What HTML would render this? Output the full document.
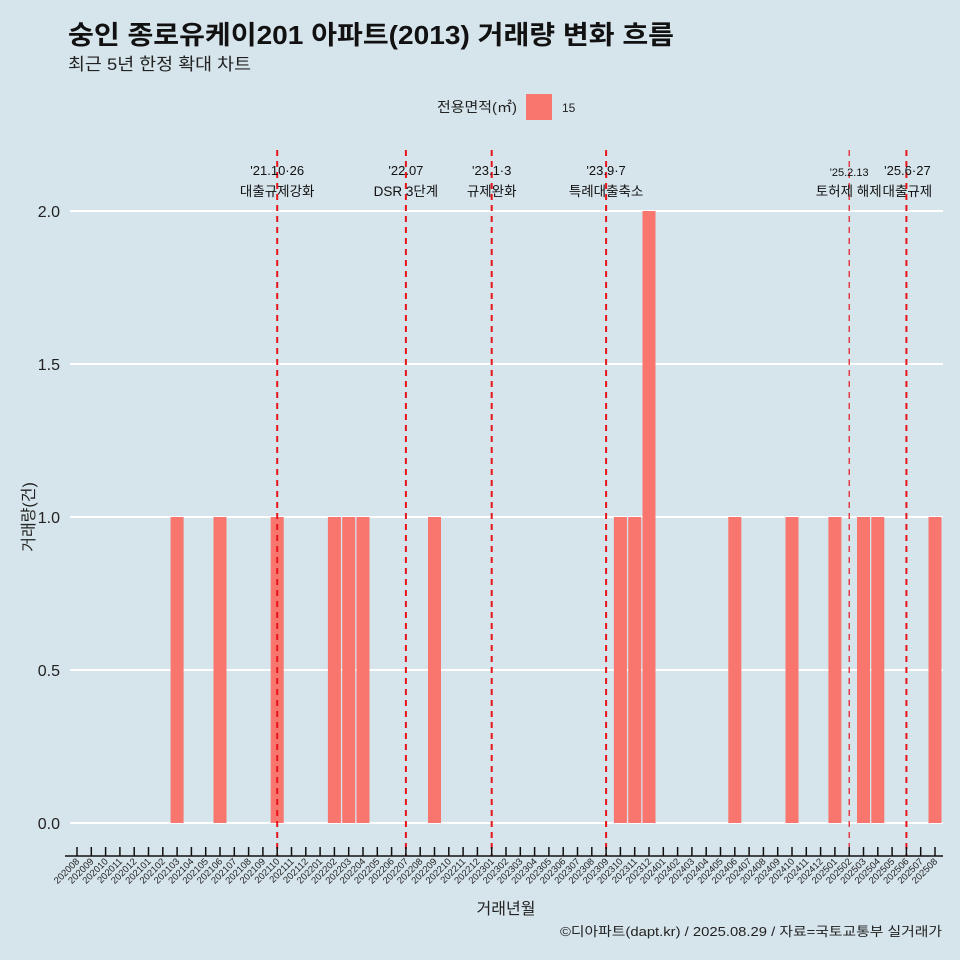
<!DOCTYPE html>
<html><head><meta charset="utf-8"><style>
body{margin:0;background:#d6e4eb;}
svg{display:block;font-family:"Liberation Sans","Noto Sans CJK KR",sans-serif;}
</style></head><body>
<svg id="c" width="960" height="960" viewBox="0 0 960 960">
<rect width="960" height="960" fill="#d6e4eb"/>
<text x="68" y="44" font-size="26" font-weight="bold" fill="#111" textLength="606" lengthAdjust="spacingAndGlyphs">숭인 종로유케이201 아파트(2013) 거래량 변화 흐름</text>
<text x="68" y="70" font-size="17" fill="#222" textLength="183" lengthAdjust="spacingAndGlyphs">최근 5년 한정 확대 차트</text>
<g>
<text x="517" y="112" font-size="14" text-anchor="end" fill="#222" textLength="80" lengthAdjust="spacingAndGlyphs">전용면적(㎡)</text>
<rect x="526" y="94" width="26" height="26" fill="#f8766d"/>
<text x="562" y="112" font-size="12" fill="#222">15</text>
</g>
<g id="grid"></g><g id="bars"></g><g id="events"></g><g id="xaxis"></g><g id="yaxis"></g>
<text x="506" y="914" font-size="16" text-anchor="middle" fill="#222">거래년월</text>
<text transform="translate(34,517) rotate(-90)" font-size="16" text-anchor="middle" fill="#222">거래량(건)</text>
<text x="942" y="936" font-size="13" text-anchor="end" fill="#222" textLength="382" lengthAdjust="spacingAndGlyphs">©디아파트(dapt.kr) / 2025.08.29 / 자료=국토교통부 실거래가</text>
</svg>
<script>
const categories=[];for(let y=2020,m=8;y<2025||(y===2025&&m<=8);){categories.push(''+y+(m<10?'0':'')+m);m++;if(m>12){m=1;y++;}}
const barMonths=['202103','202106','202110','202202','202203','202204','202209','202310','202311','202312','202406','202410','202501','202503','202504','202508'];
const barValues=[1,1,1,1,1,1,1,1,1,2,1,1,1,1,1,1];
const yTicks=[0,0.5,1,1.5,2];
const yTickLabels=['0.0','0.5','1.0','1.5','2.0'];
const eventMonths=['202110','202207','202301','202309','202502','202506'];
const eventLine1=["'21.10·26","'22.07","'23.1·3","'23.9·7","'25.2.13","'25.6·27"];
const eventLine2=['대출규제강화','DSR 3단계','규제완화','특례대출축소','토허제 해제','대출규제'];
const NS='http://www.w3.org/2000/svg';
const x0=77,dx=(935-77)/60;
const xs=c=>x0+categories.indexOf(c)*dx;
const ys=v=>823-v*306;
function mk(p,t,a){const e=document.createElementNS(NS,t);for(const k in a)e.setAttribute(k,a[k]);document.getElementById(p).appendChild(e);return e;}
yTicks.forEach((v,i)=>{
 let l=mk('grid','line',{x1:70,x2:943,y1:ys(v),y2:ys(v),stroke:'#fff','stroke-width':2});
 
 
 let t=mk('yaxis','text',{x:60,y:ys(v)+6,'font-size':16,'text-anchor':'end',fill:'#222'});t.textContent=yTickLabels[i];
 
 
});
barMonths.forEach((m,i)=>{
 let r=mk('bars','rect',{x:xs(m)-6.5,y:ys(barValues[i]),width:13,height:ys(0)-ys(barValues[i]),fill:'#f8766d'});
 
 
});
eventMonths.forEach((m,i)=>{
 const x=xs(m),small=i===4;
 let l=mk('events','line',{x1:x,x2:x,y1:150,y2:856,stroke:'#e8141c','stroke-width':small?1.2:2,'stroke-dasharray':'6,5'});
 
 
 let t1=mk('events','text',{x:i===5?x+1:x,y:small?176:175,'font-size':small?11:13,'text-anchor':'middle',fill:'#111'});t1.textContent=eventLine1[i];
 
 
 let t2=mk('events','text',{x:i===4?x-0.5:(i===5?x+1:x),y:196,'font-size':13.5,'text-anchor':'middle',fill:'#111'});t2.textContent=eventLine2[i];
 
 
});
let ax=mk('xaxis','line',{x1:65,x2:943,y1:856,y2:856,stroke:'#111','stroke-width':1.5});


categories.forEach(c=>{
 const x=xs(c);
 let tk=mk('xaxis','line',{x1:x,x2:x,y1:847,y2:856,stroke:'#111','stroke-width':1.5});
 
 
 let t=mk('xaxis','text',{x:x+3,y:862,'font-size':9.5,'text-anchor':'end',fill:'#222',transform:`rotate(-45 ${x+3} 862)`});t.textContent=c;
 
 
});
</script>
</body></html>
